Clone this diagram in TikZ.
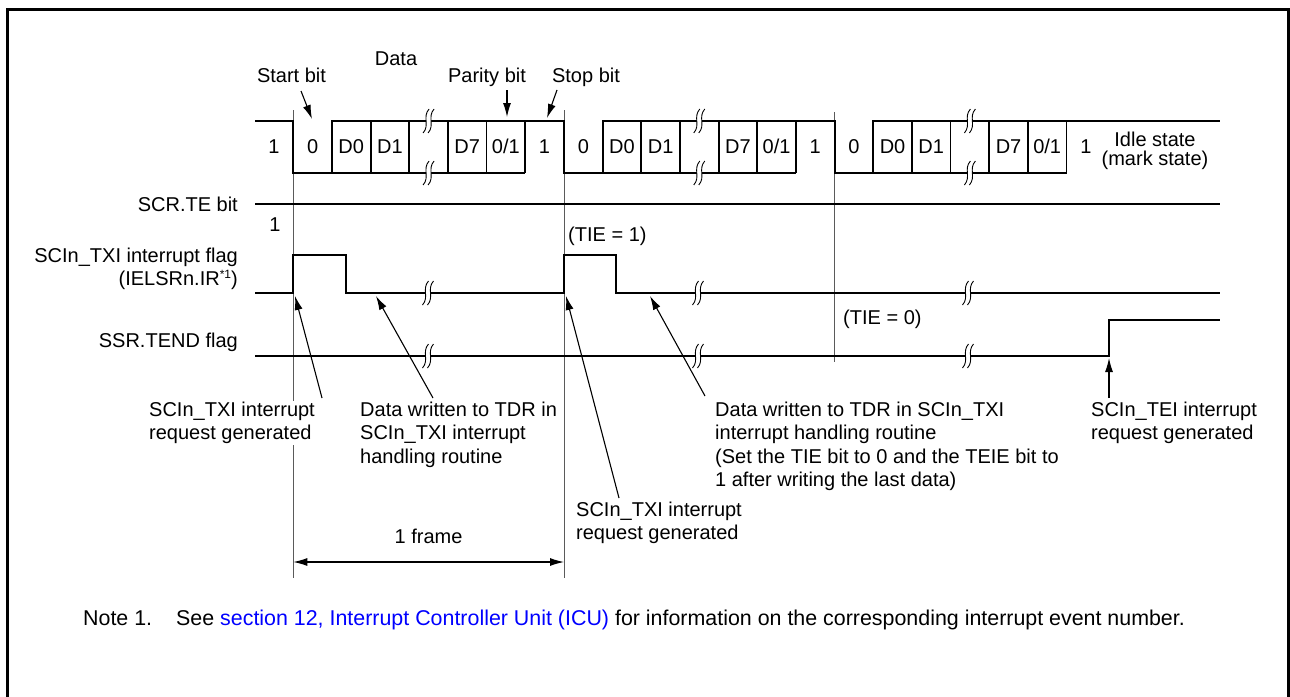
\documentclass[tikz,border=0pt]{standalone}
\usepackage{fontspec}
\setmainfont{Liberation Sans}
\usetikzlibrary{arrows.meta}
\definecolor{linkblue}{RGB}{0,0,255}
\definecolor{guidegray}{RGB}{90,90,90}
\begin{document}
\begin{tikzpicture}[x=1pt,y=-1pt,
  every node/.style={inner sep=0pt, font=\fontsize{20}{23.5}\selectfont},
  sig/.style={line width=1.8pt},
  guide/.style={line width=0.9pt, guidegray},
  annarrow/.style={-{Latex[length=14pt,width=8pt]}, line width=1.1pt},
  dimarrow/.style={{Latex[length=14pt,width=8pt]}-{Latex[length=14pt,width=8pt]}, line width=1.1pt},
  lbl/.style={anchor=base},
  anntext/.style={anchor=north west, align=left},
  pics/brk/.style={code={
    \fill[white] (0.5,-12) .. controls (-6.5,-4) and (1.5,4) .. (-5.5,12) -- (-0.5,12) .. controls (6.5,4) and (-1.5,-4) .. (5.5,-12) -- cycle;
    \draw[line width=0.9pt] (0.5,-12) .. controls (-6.5,-4) and (1.5,4) .. (-5.5,12);
    \draw[line width=0.9pt] (5.5,-12) .. controls (-1.5,-4) and (6.5,4) .. (-0.5,12);
  }}
]
\useasboundingbox (0,0) rectangle (1290,696);
\fill[white] (0,0) rectangle (1290,696);
\draw[line width=3pt] (7,720) -- (7,9) -- (1288,9) -- (1288,720);

% guide lines
\draw[guide] (293.3,110) -- (293.3,578);
\draw[guide] (564,110) -- (564,578);
\draw[guide] (834.6,112) -- (834.6,362);

% data line
\draw[sig] (255,121) -- (293.3,121) -- (293.3,173) -- (525.2,173);
\draw[sig] (331.95,173) -- (331.95,121) -- (564,121) -- (564,173) -- (795.9,173);
\draw[sig] (602.65,173) -- (602.65,121) -- (834.6,121) -- (834.6,173) -- (1066.5,173);
\draw[sig] (873.25,173) -- (873.25,121) -- (1220,121);
\foreach \s in {293.3,564,834.6}{
  \foreach \j in {2,...,6}{
    \draw[sig] ({\s+\j*38.65},121) -- ({\s+\j*38.65},173);
  }
  \pic at ({\s+3.5*38.65},121) {brk};
  \pic at ({\s+3.5*38.65},173) {brk};
}
\node[lbl] (idle1) at (274,153) {1};
\foreach \s/\k in {293.3/1,564/2,834.6/3}{
  \node[lbl] (f\k s) at ({\s+0.5*38.65},153) {0};
  \node[lbl] (f\k a) at ({\s+1.5*38.65},153) {D0};
  \node[lbl] (f\k b) at ({\s+2.5*38.65},153) {D1};
  \node[lbl] (f\k c) at ({\s+4.5*38.65},153) {D7};
  \node[lbl] (f\k p) at ({\s+5.5*38.65},153) {0/1};
  \node[lbl] (f\k e) at ({\s+6.5*38.65},153) {1};
}
\node[anchor=base, align=center, font=\fontsize{20}{19}\selectfont] (idle) at (1155,165) {Idle state\\(mark state)};

% top labels
\node[lbl] (lData) at (396,65) {Data};
\node[lbl] (lStart) at (291.5,82) {Start bit};
\node[lbl] (lPar) at (487,82) {Parity bit};
\node[lbl] (lStop) at (586,82) {Stop bit};
\coordinate (sStart) at (301,91);  \coordinate (tStart) at (312,119);
\coordinate (sPar) at (507,90);    \coordinate (tPar) at (507,117);
\coordinate (sStop) at (557,90);   \coordinate (tStop) at (547,118);
\draw[annarrow] (sStart) -- (tStart);
\draw[annarrow] (sPar) -- (tPar);
\draw[annarrow] (sStop) -- (tStop);

% SCR.TE
\node[anchor=base east] (lTE) at (238,211) {SCR.TE bit};
\draw[sig] (255,204) -- (1220,204);
\node[lbl] (one) at (275,231) {1};

% TXI flag
\node[anchor=base east] (lTXI1) at (238,262) {SCIn\_TXI interrupt flag};
\node[anchor=base east] (lTXI2) at (238,285) {(IELSRn.IR\raisebox{7pt}{\fontsize{12}{12}\selectfont *1})};
\draw[sig] (255,293) -- (293.3,293) -- (293.3,255) -- (346,255) -- (346,293) -- (564,293) -- (564,255) -- (616,255) -- (616,293) -- (1220,293);
\node[anchor=base west] (tie1) at (568,241) {(TIE = 1)};
\node[anchor=base west] (tie0) at (843,324) {(TIE = 0)};

% TEND flag
\node[anchor=base east] (lTEND) at (238,347) {SSR.TEND flag};
\draw[sig] (255,356) -- (1109,356) -- (1109,320) -- (1220,320);
\foreach \x in {428,698,968}{
  \pic at (\x,293) {brk};
  \pic at (\x,356) {brk};
}

% annotations
\node[anntext, fill=white, inner sep=1pt] (annA) at (148,400.5) {SCIn\_TXI interrupt\\request generated};
\node[anntext] (annB) at (360,401.5) {Data written to TDR in\\SCIn\_TXI interrupt\\handling routine};
\node[anntext] (annC) at (576,501.5) {SCIn\_TXI interrupt\\request generated};
\node[anntext] (annD) at (715,401.5) {Data written to TDR in SCIn\_TXI\\interrupt handling routine\\(Set the TIE bit to 0 and the TEIE bit to\\1 after writing the last data)};
\node[anntext] (annE) at (1091,401.5) {SCIn\_TEI interrupt\\request generated};

\coordinate (sA) at (322,398);  \coordinate (tA) at (295,296);
\coordinate (sB) at (433,398);  \coordinate (tB) at (376,296);
\coordinate (sC) at (619,498);  \coordinate (tC) at (566,296);
\coordinate (sD) at (705,396);  \coordinate (tD) at (650,296);
\coordinate (sE) at (1109,398); \coordinate (tE) at (1109,358);
\draw[annarrow] (sA) -- (tA);
\draw[annarrow] (sB) -- (tB);
\draw[annarrow] (sC) -- (tC);
\draw[annarrow] (sD) -- (tD);
\draw[annarrow] (sE) -- (tE);

% frame dimension
\node[lbl] (frm) at (428.6,543) {1 frame};
\coordinate (d1) at (293.3,562);
\coordinate (d2) at (564,562);
\draw[dimarrow] (d1) -- (d2);

% note
\node[anchor=base west, font=\fontsize{21.4}{24}\selectfont] (noteA) at (83,625) {Note 1.};
\node[anchor=base west, font=\fontsize{21.4}{24}\selectfont] (noteB) at (176,625) {See {\color{linkblue}section 12, Interrupt Controller Unit (ICU)} for information on the corresponding interrupt event number.};
\end{tikzpicture}
\end{document}
